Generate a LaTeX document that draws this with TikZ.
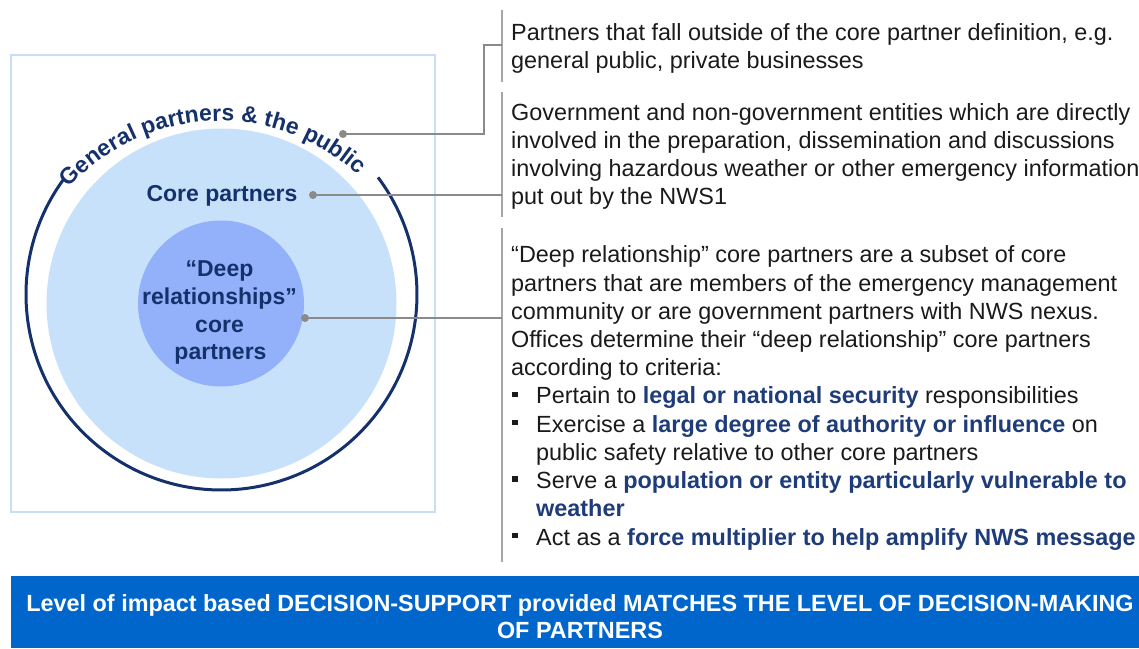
\documentclass[tikz,border=0pt]{standalone}
\usepackage{fontspec}
\setmainfont{Liberation Sans}
\usetikzlibrary{decorations.text}
\definecolor{navy}{HTML}{15316B}
\definecolor{boldblue}{HTML}{1F3C7A}
\definecolor{lightcirc}{HTML}{C8E1FA}
\definecolor{innercirc}{HTML}{93B1FA}
\definecolor{boxline}{HTML}{C9DEF5}
\definecolor{connc}{HTML}{8A8A8A}
\definecolor{barc}{HTML}{A6A6A6}
\definecolor{bannerblue}{HTML}{0066CC}
\definecolor{bodytext}{HTML}{1A1A1A}
\newcommand{\hb}[1]{\textcolor{boldblue}{\textbf{#1}}}
\begin{document}
\begin{tikzpicture}[x=1pt,y=1pt,
  bodyline/.style={anchor=base west, inner sep=0pt, font=\fontsize{23.4}{28.2}\selectfont, text=bodytext},
  circlabel/.style={anchor=base, inner sep=0pt, font=\bfseries\fontsize{23}{28}\selectfont, text=navy},
  bannerline/.style={anchor=base, inner sep=0pt, font=\bfseries\fontsize{23.4}{28}\selectfont, text=white},
  conn/.style={draw=connc, line width=2pt},
  bar/.style={draw=barc, line width=1.6pt},
  dot/.style={circle, fill=connc, inner sep=0pt, minimum size=8pt},
  bulletsq/.style={fill=bodytext, inner sep=0pt, minimum size=5.5pt}]
\useasboundingbox (0,0) rectangle (1139,648);

% frame
\draw[boxline, line width=1.5pt] (11,136) rectangle (435,593);

% circles
\node[circle, fill=lightcirc, minimum size=350pt, inner sep=0pt] (core) at (221.5,344.5) {};
\node[circle, fill=innercirc, minimum size=166pt, inner sep=0pt] (deep) at (221,344.5) {};
\draw[navy, line width=3pt] (221.5,353.5) ++(143.6:195.5) arc[start angle=143.6, end angle=396.8, radius=195.5];

% curved title
\path[decorate, decoration={text along path, text align=center, text color=navy,
  text={|\bfseries\fontsize{23}{27}\selectfont|General partners {\&} the public}}]
  (220,323) ++(140:204) arc[start angle=140, end angle=45, radius=204];

% circle labels
\node[circlabel] (corelbl) at (222,446.5) {Core partners};
\node[circlabel] (deep1) at (219.5,371) {“Deep};
\node[circlabel] (deep2) at (219.5,343) {relationships”};
\node[circlabel] (deep3) at (219.5,315) {core};
\node[circlabel] (deep4) at (220.5,288) {partners};

% bars
\coordinate (b1t) at (502,638); \coordinate (b1b) at (502,566);
\coordinate (b2t) at (502,556); \coordinate (b2b) at (502,431);
\coordinate (b3t) at (502,420); \coordinate (b3b) at (502,86);
\draw[bar] (b1t) -- (b1b);
\draw[bar] (b2t) -- (b2b);
\draw[bar] (b3t) -- (b3b);

% connectors
\coordinate (e1) at (502,603);
\coordinate (e2) at (502,453);
\coordinate (e3) at (502,330);
\draw[conn] (343,514) -- (484,514) |- (e1);
\node[dot] (d1) at (343,514) {};
\draw[conn] (313,453) -- (e2);
\node[dot] (d2) at (313,453) {};
\draw[conn] (305,330) -- (e3);
\node[dot] (d3) at (305,330) {};

% block 1
\node[bodyline] (t11) at (511,607) {Partners that fall outside of the core partner definition, e.g.};
\node[bodyline] (t12) at (511,579) {general public, private businesses};
% block 2
\node[bodyline] (t21) at (511,527) {Government and non-government entities which are directly};
\node[bodyline] (t22) at (511,499) {involved in the preparation, dissemination and discussions};
\node[bodyline] (t23) at (511,471) {involving hazardous weather or other emergency information};
\node[bodyline] (t24) at (511,443) {put out by the NWS1};
% block 3
\node[bodyline] (t31) at (511,385) {“Deep relationship” core partners are a subset of core};
\node[bodyline] (t32) at (511,356.8) {partners that are members of the emergency management};
\node[bodyline] (t33) at (511,328.6) {community or are government partners with NWS nexus.};
\node[bodyline] (t34) at (511,300.4) {Offices determine their “deep relationship” core partners};
\node[bodyline] (t35) at (511,272.2) {according to criteria:};
\node[bodyline] (t36) at (536,244) {Pertain to \hb{legal or national security} responsibilities};
\node[bodyline] (t37) at (536,215.8) {Exercise a \hb{large degree of authority or influence} on};
\node[bodyline] (t38) at (536,187.6) {public safety relative to other core partners};
\node[bodyline] (t39) at (536,159.4) {Serve a \hb{population or entity particularly vulnerable to}};
\node[bodyline] (t310) at (536,131.2) {\hb{weather}};
\node[bodyline] (t311) at (536,103) {Act as a \hb{force multiplier to help amplify NWS message}};
\node[bulletsq] (bu1) at (515,253.5) {};
\node[bulletsq] (bu2) at (515,225.3) {};
\node[bulletsq] (bu3) at (515,168.9) {};
\node[bulletsq] (bu4) at (515,112.5) {};

% banner
\node[fill=bannerblue, minimum width=1128pt, minimum height=72pt, inner sep=0pt, anchor=south west] (banner) at (11,0) {};
\node[bannerline] (ban1) at (580,36.5) {Level of impact based DECISION-SUPPORT provided MATCHES THE LEVEL OF DECISION-MAKING};
\node[bannerline] (ban2) at (580,9.5) {OF PARTNERS};
\end{tikzpicture}
\end{document}
